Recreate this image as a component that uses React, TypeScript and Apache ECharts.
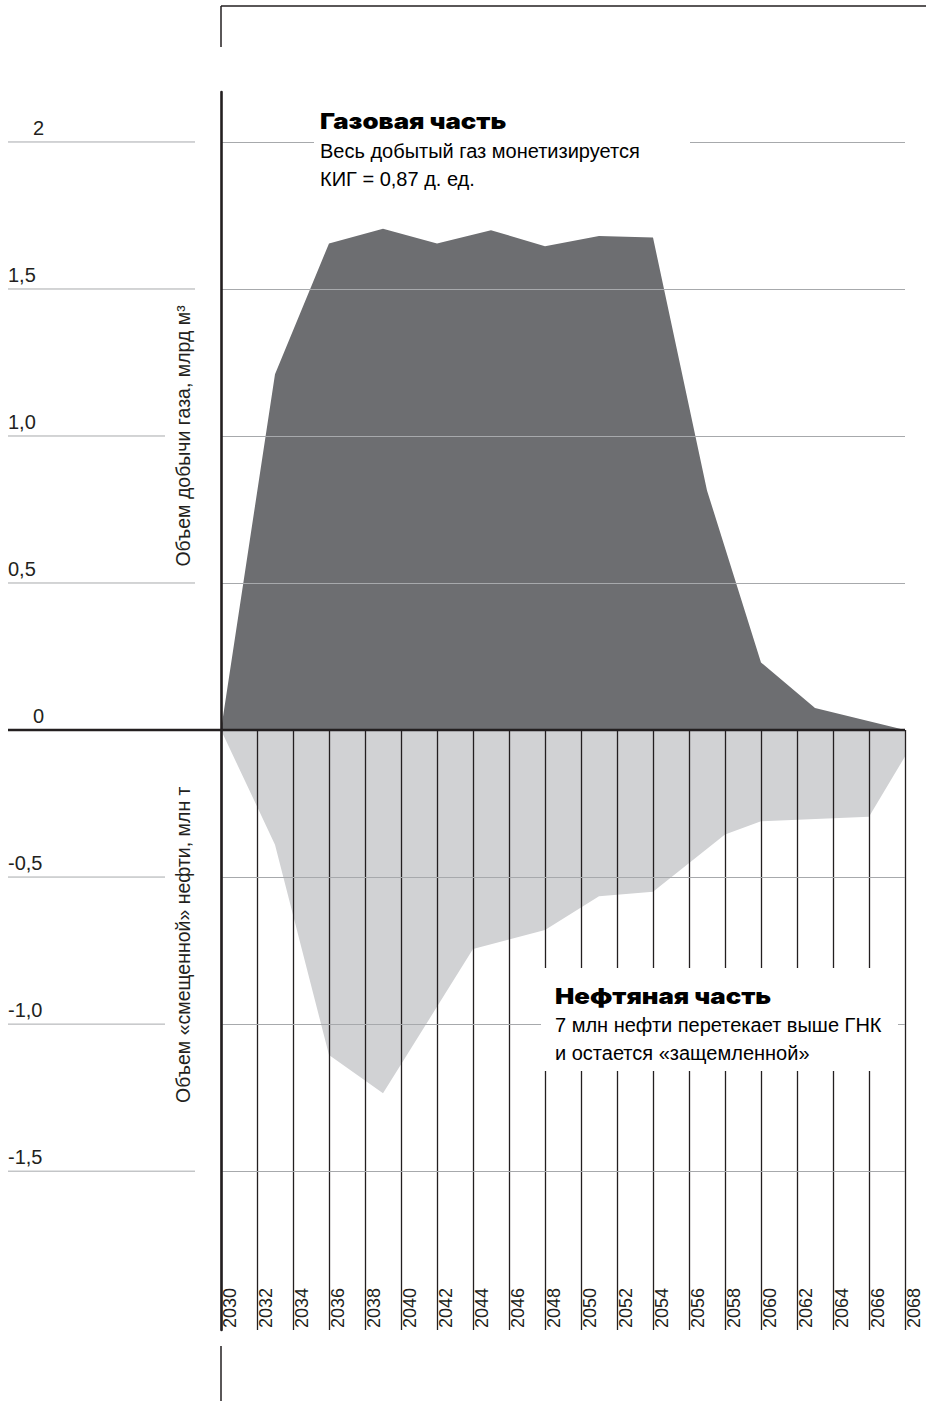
import React, { useEffect, useRef } from 'react';
import * as echarts from 'echarts';

// ---- data ----
const GAS_YEARS = [2030, 2033, 2036, 2039, 2042, 2045, 2048, 2051, 2054, 2057, 2060, 2063, 2068];
const GAS_VALUES = [0, 1.21, 1.655, 1.705, 1.655, 1.7, 1.645, 1.68, 1.675, 0.815, 0.23, 0.075, 0];
const OIL_YEARS = [2030, 2033, 2036, 2039, 2044, 2048, 2051, 2054, 2058, 2060, 2066, 2068];
const OIL_VALUES = [0, -0.39, -1.105, -1.235, -0.745, -0.68, -0.565, -0.55, -0.355, -0.31, -0.295, -0.09];

const X_MIN = 2030;
const X_MAX = 2068;
const X_STEP = 2;
const GAS_MAX = 2.17;
const OIL_MIN = -2.04;
const GAS_GRID_VALUES = [2, 1.5, 1, 0.5];
const OIL_GRID_VALUES = [-0.5, -1, -1.5];
const Y_TICK_VALUES = [2, 1.5, 1, 0.5, 0, -0.5, -1, -1.5];
const Y_TICK_LABELS = ['2', '1,5', '1,0', '0,5', '0', '-0,5', '-1,0', '-1,5'];

const GAS_AXIS_TITLE = 'Объем добычи газа, млрд м³';
const OIL_AXIS_TITLE = 'Объем «смещенной» нефти, млн т';
const GAS_NOTE_TITLE = 'Газовая часть';
const GAS_NOTE_LINES = ['Весь добытый газ монетизируется', 'КИГ = 0,87 д. ед.'];
const OIL_NOTE_TITLE = 'Нефтяная часть';
const OIL_NOTE_LINES = ['7 млн нефти перетекает выше ГНК', 'и остается «защемленной»'];

// ---- styles ----
const FONT = "'Liberation Sans', Arial, sans-serif";
const HEAVY_FONT = "Inter, 'Noto Sans', sans-serif";
const BLACK = '#231f20';
const GRID_GREY = '#a7a9ac';
const GAS_COLOR = '#6d6e71';
const OIL_COLOR = '#d1d2d4';

function buildOption(): any {
  const gasData = GAS_YEARS.map((y, i) => [y, GAS_VALUES[i]]);
  const oilData = OIL_YEARS.map((y, i) => [y, OIL_VALUES[i]]);
  const markLineStyle = { color: GRID_GREY, width: 1, type: 'solid' };
  return {
    animation: false,
    backgroundColor: '#fff',
    grid: [
      { left: 221, right: 21, top: 92, height: 638 },
      { left: 221, right: 21, top: 730, height: 600 },
    ],
    xAxis: [
      { gridIndex: 0, type: 'value', min: X_MIN, max: X_MAX, interval: X_STEP, show: false },
      {
        gridIndex: 1,
        type: 'value',
        min: X_MIN,
        max: X_MAX,
        interval: X_STEP,
        z: 4,
        axisLine: { show: false },
        axisTick: { show: false },
        splitLine: { show: true, lineStyle: { color: BLACK, width: 1.3 } },
        axisLabel: {
          inside: true,
          rotate: 90,
          align: 'left',
          verticalAlign: 'top',
          margin: 2,
          fontSize: 18,
          fontFamily: FONT,
          color: BLACK,
          showMinLabel: true,
          showMaxLabel: true,
          formatter: (v: number) => String(v),
        },
      },
    ],
    yAxis: [
      {
        gridIndex: 0,
        type: 'value',
        min: 0,
        max: GAS_MAX,
        z: 5,
        axisLine: { show: true, lineStyle: { color: BLACK, width: 2.6 } },
        axisTick: { show: false },
        axisLabel: { show: false },
        splitLine: { show: false },
      },
      {
        gridIndex: 1,
        type: 'value',
        min: OIL_MIN,
        max: 0,
        z: 5,
        axisLine: { show: true, lineStyle: { color: BLACK, width: 2.6 } },
        axisTick: { show: false },
        axisLabel: { show: false },
        splitLine: { show: false },
      },
    ],
    series: [
      {
        name: 'gas',
        type: 'line',
        xAxisIndex: 0,
        yAxisIndex: 0,
        data: gasData,
        symbol: 'none',
        silent: true,
        lineStyle: { width: 0 },
        areaStyle: { color: GAS_COLOR, opacity: 1, origin: 'start' },
        markLine: {
          silent: true,
          symbol: 'none',
          label: { show: false },
          lineStyle: markLineStyle,
          data: GAS_GRID_VALUES.map((v) => ({ yAxis: v })),
        },
      },
      {
        name: 'oil',
        type: 'line',
        xAxisIndex: 1,
        yAxisIndex: 1,
        data: oilData,
        symbol: 'none',
        silent: true,
        lineStyle: { width: 0 },
        areaStyle: { color: OIL_COLOR, opacity: 1, origin: 'end' },
        markLine: {
          silent: true,
          symbol: 'none',
          label: { show: false },
          lineStyle: markLineStyle,
          data: OIL_GRID_VALUES.map((v) => ({ yAxis: v })),
        },
      },
    ],
  };
}

export default function App() {
  const ref = useRef<HTMLDivElement>(null);
  useEffect(() => {
    if (!ref.current) return;
    const chart = echarts.init(ref.current, null, { renderer: 'svg' });
    chart.setOption(buildOption());

    const py = (v: number) => chart.convertToPixel({ yAxisIndex: v >= 0 ? 0 : 1 }, v) as number;
    const px = (yr: number) => chart.convertToPixel({ xAxisIndex: 1 }, yr) as number;
    const x0 = px(X_MIN);
    const xEnd = px(X_MAX);
    const yZero = py(0);

    const els: any[] = [];
    // frame decorations
    els.push({ type: 'line', z: 10, shape: { x1: x0, y1: 6, x2: 926, y2: 6 }, style: { stroke: BLACK, lineWidth: 1.5 } });
    els.push({ type: 'line', z: 10, shape: { x1: x0, y1: 6, x2: x0, y2: 47 }, style: { stroke: BLACK, lineWidth: 1.5 } });
    els.push({ type: 'line', z: 10, shape: { x1: x0, y1: 1346, x2: x0, y2: 1401 }, style: { stroke: BLACK, lineWidth: 1.5 } });

    // left gridline segments + labels
    Y_TICK_VALUES.forEach((v, i) => {
      const y = py(v);
      if (v !== 0) {
        els.push({ type: 'line', z: 10, shape: { x1: 8, y1: y, x2: 195, y2: y }, style: { stroke: GRID_GREY, lineWidth: 1 } });
      }
      const lab = Y_TICK_LABELS[i];
      els.push({
        type: 'text',
        z: 12,
        x: lab.includes(',') ? 8 : 33,
        y: y - 4,
        style: { text: lab, fontSize: 20, fontFamily: FONT, fill: BLACK, align: 'left', verticalAlign: 'bottom' },
      });
    });
    // zero line
    els.push({ type: 'line', z: 11, shape: { x1: 8, y1: yZero, x2: xEnd, y2: yZero }, style: { stroke: BLACK, lineWidth: 2.6 } });

    // rotated axis titles
    const titleStyle = (text: string) => ({
      text,
      fontSize: 19.5,
      fontFamily: FONT,
      fill: BLACK,
      align: 'center',
      verticalAlign: 'middle',
      backgroundColor: '#fff',
      padding: [12, 6, 4, 6],
    });
    els.push({ type: 'text', z: 15, x: 183, y: py(1.0), rotation: Math.PI / 2, style: titleStyle(GAS_AXIS_TITLE) });
    els.push({ type: 'text', z: 15, x: 183, y: py(-0.73), rotation: Math.PI / 2, style: titleStyle(OIL_AXIS_TITLE) });

    const heading = (x: number, y: number, text: string) => ({
      type: 'text',
      z: 41,
      x,
      y,
      scaleX: 1.17,
      style: { text, fontSize: 22, fontWeight: 900, fontFamily: HEAVY_FONT, fill: '#000', verticalAlign: 'middle' },
    });

    // gas annotation
    const gx = 320;
    els.push({ type: 'rect', z: 40, shape: { x: gx - 6, y: 106, width: 376, height: 100 }, style: { fill: '#fff' } });
    els.push(heading(gx, 121, GAS_NOTE_TITLE));
    GAS_NOTE_LINES.forEach((t, i) => {
      els.push({ type: 'text', z: 41, x: gx, y: 151 + i * 28, style: { text: t, fontSize: 20, fontFamily: FONT, fill: '#000', verticalAlign: 'middle' } });
    });

    // oil annotation
    const ox = 555;
    els.push({ type: 'rect', z: 40, shape: { x: 541, y: 968, width: 357, height: 103 }, style: { fill: '#fff' } });
    els.push(heading(ox, 996, OIL_NOTE_TITLE));
    OIL_NOTE_LINES.forEach((t, i) => {
      els.push({ type: 'text', z: 41, x: ox, y: 1025 + i * 28, style: { text: t, fontSize: 20, fontFamily: FONT, fill: '#000', verticalAlign: 'middle' } });
    });

    chart.setOption({ graphic: els });
    return () => chart.dispose();
  }, []);
  return (
    <div
      ref={ref}
      style={{ position: 'fixed', left: 0, top: 0, width: 926, height: 1409, background: '#fff' }}
    />
  );
}
